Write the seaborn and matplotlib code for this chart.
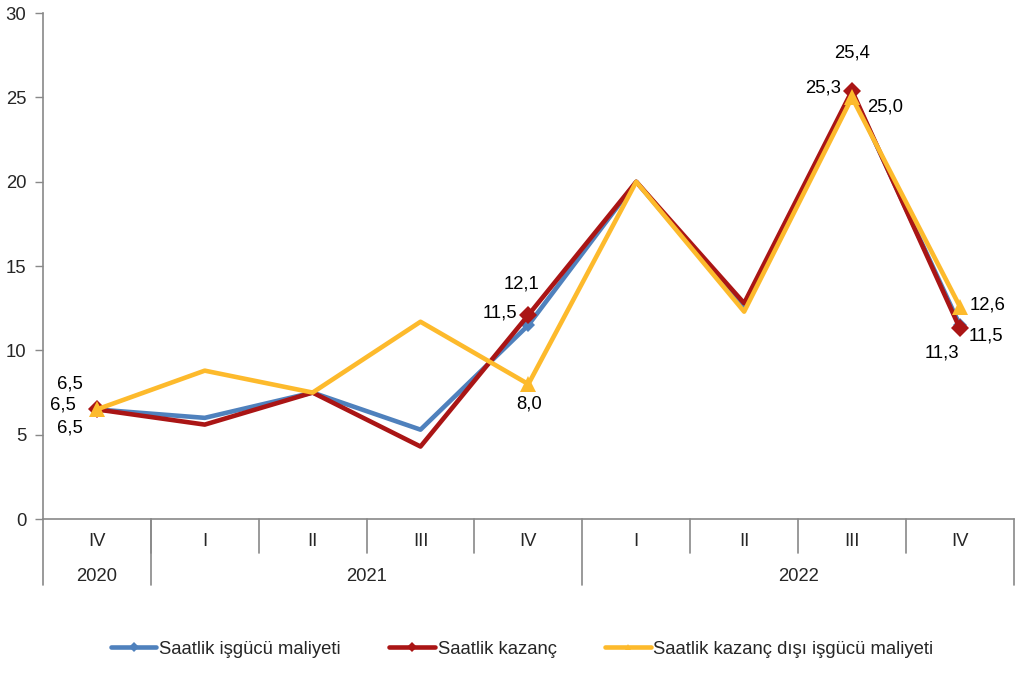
import matplotlib
matplotlib.use("Agg")
import matplotlib.pyplot as plt
import matplotlib.transforms as mtransforms
import pandas as pd
import seaborn as sns

# veriler
quarters = ["IV", "I", "II", "III", "IV", "I", "II", "III", "IV"]
years = ["2020", "2021", "2022"]
year_spans = [(0, 0), (1, 4), (5, 8)]

isgucu = [6.5, 6.0, 7.5, 5.3, 11.5, 20.0, 12.5, 25.3, 11.5]
kazanc = [6.5, 5.6, 7.5, 4.3, 12.1, 20.0, 12.8, 25.4, 11.3]
kazanc_disi = [6.5, 8.8, 7.5, 11.7, 8.0, 20.0, 12.3, 25.0, 12.6]

series_names = ["Saatlik işgücü maliyeti", "Saatlik kazanç", "Saatlik kazanç dışı işgücü maliyeti"]
series_vals = [isgucu, kazanc, kazanc_disi]
colors = ["#4F81BD", "#AA1515", "#FDBA2C"]
markers = ["D", "D", "^"]
marker_sizes = [7, 9, 12]
mark_idx = [0, 4, 7, 8]

# etiketlerin kaydirmalari (piksel)
label_offsets = [
    {0: (-34, 4), 4: (-28, 12), 7: (-29, 4), 8: (26, -11)},
    {0: (-27, 25), 4: (-7, 31), 7: (0, 38), 8: (-18, -25)},
    {0: (-27, -19), 4: (1, -20), 7: (33, -10), 8: (28, 2)},
]

FS = 13.3

sns.set_style("white")
plt.rcParams["font.family"] = ["Liberation Sans", "DejaVu Sans"]

fig = plt.figure(figsize=(10.22, 6.79), dpi=100)
ax = fig.add_axes([0.042, 0.2356, 0.950, 0.745])

x = list(range(len(quarters)))
for name, vals, c, m, ms in zip(series_names, series_vals, colors, markers, marker_sizes):
    df = pd.DataFrame({"x": x, "y": vals})
    sns.lineplot(data=df, x="x", y="y", ax=ax, color=c, linewidth=3.3,
                 marker=m, markersize=ms, markevery=mark_idx,
                 markeredgewidth=0, label=name, legend=False)

for vals, offs in zip(series_vals, label_offsets):
    for i, (dx, dy) in offs.items():
        ax.annotate(f"{vals[i]:.1f}".replace(".", ","), (i, vals[i]),
                    xytext=(dx, dy), textcoords="offset pixels",
                    ha="center", va="center", fontsize=FS, color="black")

ax.set_xlim(-0.5, 8.5)
ax.set_ylim(0, 30)
ax.set_yticks(range(0, 31, 5))
ax.set_xticks([])
ax.set_xlabel("")
ax.set_ylabel("")
ax.tick_params(axis="y", left=True, length=6, width=1, color="#898989",
               labelsize=FS, pad=6)
for s in ["top", "right"]:
    ax.spines[s].set_visible(False)
for s in ["left", "bottom"]:
    ax.spines[s].set_color("#898989")
    ax.spines[s].set_linewidth(1.2)

# cok seviyeli x ekseni
trans = mtransforms.blended_transform_factory(ax.transData, ax.transAxes)
gray = "#898989"
for b in [0.5, 1.5, 2.5, 3.5, 5.5, 6.5, 7.5]:
    ax.plot([b, b], [0, -0.067], color=gray, lw=1.2, transform=trans, clip_on=False)
for b in [-0.5, 0.5, 4.5, 8.5]:
    ax.plot([b, b], [0, -0.13], color=gray, lw=1.2, transform=trans, clip_on=False)
for i, q in enumerate(quarters):
    ax.text(i, -0.045, q, transform=trans, ha="center", va="center", fontsize=FS)
for yr, (a, b) in zip(years, year_spans):
    ax.text((a + b) / 2, -0.113, yr, transform=trans, ha="center", va="center", fontsize=FS)

handles = []
for name, c, m in zip(series_names, colors, markers):
    h, = ax.plot([], [], color=c, lw=3.3, marker=m, markersize=5, markeredgewidth=0, label=name)
    handles.append(h)
fig.legend(handles=handles, loc="center", bbox_to_anchor=(0.511, 0.044), ncol=3,
           frameon=False, fontsize=FS, handlelength=2.45, handletextpad=0.15,
           columnspacing=2.65)

fig.savefig("out.png", dpi=100)
